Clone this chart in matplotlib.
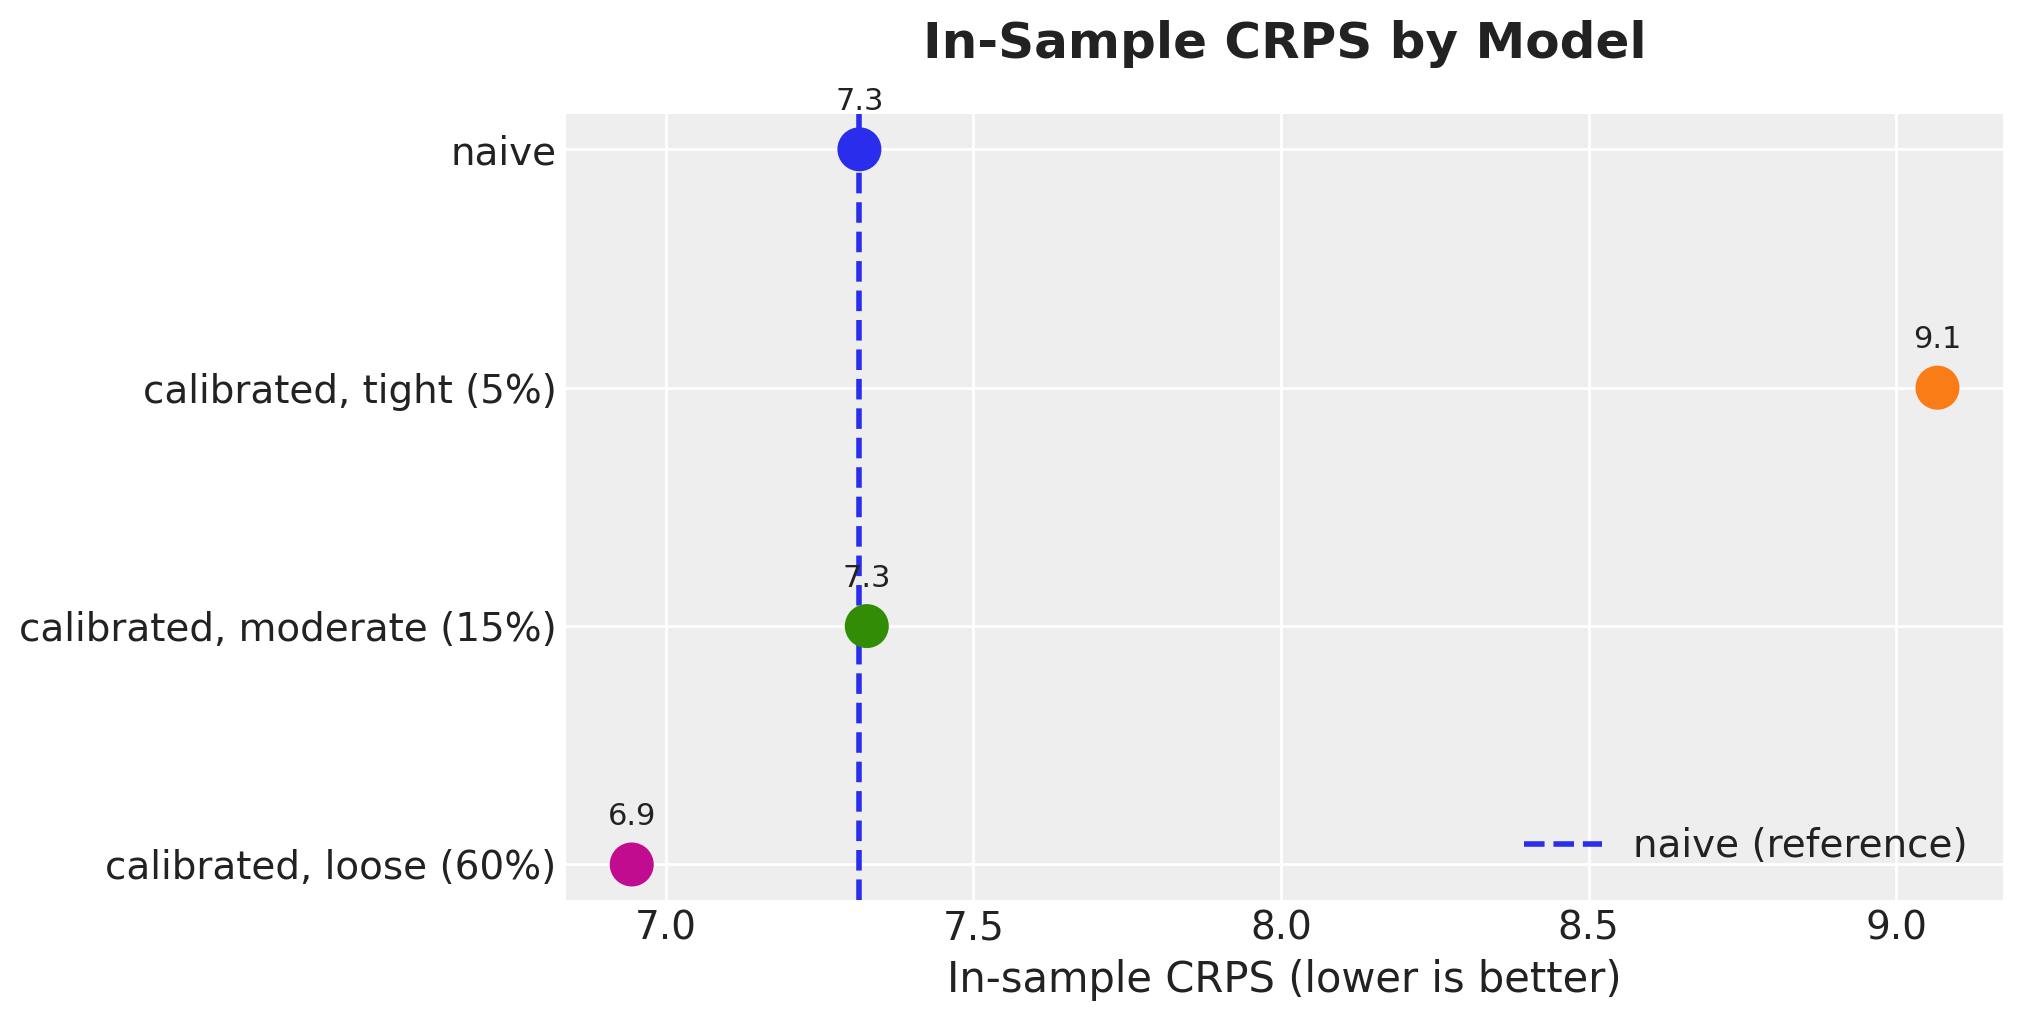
import matplotlib
matplotlib.use("Agg")
import matplotlib.pyplot as plt
import numpy as np

models = [
    "naive",
    "calibrated, tight (5%)",
    "calibrated, moderate (15%)",
    "calibrated, loose (60%)",
]
crps = [7.315, 9.067, 7.327, 6.945]
colors = ["#2a2eec", "#fa7c17", "#328c06", "#c10c90"]
naive_crps = crps[0]


def setup_style() -> None:
    plt.rcParams.update({
        "font.family": ["DejaVu Sans"],
        "axes.facecolor": "#eeeeee",
        "axes.edgecolor": "white",
        "axes.grid": True,
        "grid.color": "white",
        "grid.linewidth": 1.0,
        "axes.spines.left": False,
        "axes.spines.right": False,
        "axes.spines.top": False,
        "axes.spines.bottom": False,
        "xtick.major.size": 0,
        "ytick.major.size": 0,
        "xtick.labelsize": 14,
        "ytick.labelsize": 14,
        "text.color": "#222222",
        "axes.labelcolor": "#222222",
        "xtick.color": "#222222",
        "ytick.color": "#222222",
        "axes.axisbelow": True,
    })


def plot() -> None:
    fig = plt.figure(figsize=(10.115, 5.115), dpi=200)
    ax = fig.add_axes([0.280, 0.120, 0.710, 0.769])
    y = np.arange(len(models))
    ax.scatter(crps, y, s=220, c=colors, zorder=3)
    for xv, yv in zip(crps, y):
        ax.annotate(f"{xv:.1f}", (xv, yv), xytext=(0, 12), textcoords="offset points",
                    ha="center", va="bottom", fontsize=11)
    ax.axvline(naive_crps, color="#2a2eec", ls="--", lw=2, label="naive (reference)", zorder=2)
    ax.set_yticks(y)
    ax.set_yticklabels(models)
    ax.invert_yaxis()
    ax.set_xlabel("In-sample CRPS (lower is better)", fontsize=15)
    ax.set_title("In-Sample CRPS by Model", fontsize=18, fontweight="bold", pad=20)
    ax.legend(loc="lower right", frameon=False, fontsize=14)
    fig.savefig("out.png")
    plt.close(fig)


if __name__ == "__main__":
    setup_style()
    plot()
